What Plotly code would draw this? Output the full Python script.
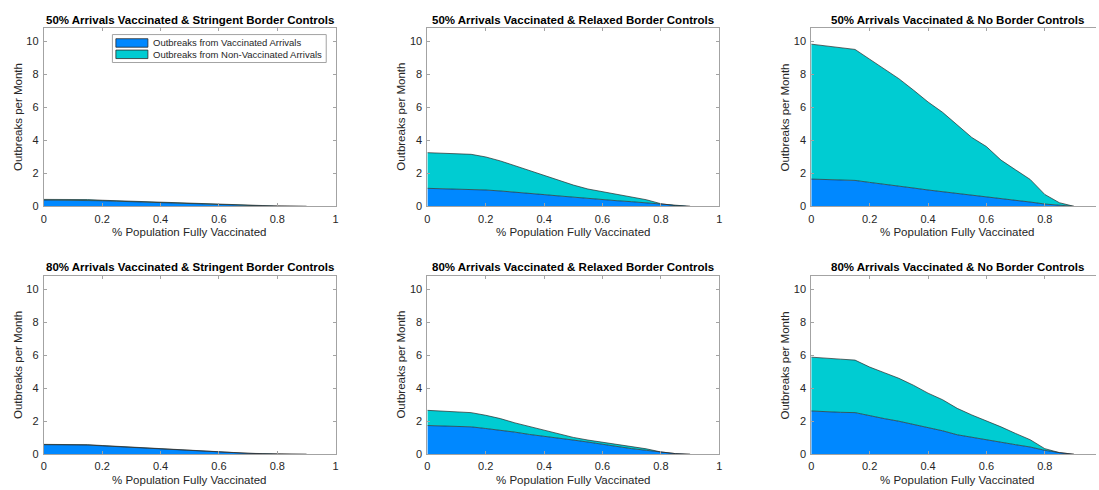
import plotly.graph_objects as go

# Share of the population fully vaccinated
vacc_share = [0.0, 0.05, 0.1, 0.15, 0.2, 0.25, 0.3, 0.35, 0.4, 0.45,
              0.5, 0.55, 0.6, 0.65, 0.7, 0.75, 0.8, 0.85, 0.9]

# Outbreaks per month from vaccinated arrivals (bottom layer)
vax_50_stringent = [0.38, 0.38, 0.38, 0.37, 0.34, 0.31, 0.28, 0.25, 0.21, 0.18,
                    0.15, 0.12, 0.09, 0.07, 0.05, 0.03, 0.02, 0.01, 0.0]
vax_50_relaxed = [1.09, 1.07, 1.05, 1.03, 0.99, 0.93, 0.87, 0.79, 0.71, 0.63,
                  0.55, 0.48, 0.42, 0.34, 0.28, 0.20, 0.12, 0.04, 0.0]
vax_50_none = [1.65, 1.61, 1.59, 1.57, 1.45, 1.35, 1.23, 1.11, 0.99, 0.89,
               0.76, 0.66, 0.56, 0.46, 0.36, 0.26, 0.14, 0.06, 0.0]
vax_80_stringent = [0.58, 0.58, 0.58, 0.56, 0.51, 0.46, 0.41, 0.37, 0.31, 0.26,
                    0.22, 0.18, 0.14, 0.10, 0.06, 0.03, 0.01, 0.005, 0.0]
vax_80_relaxed = [1.74, 1.70, 1.68, 1.66, 1.56, 1.46, 1.34, 1.20, 1.10, 0.98,
                  0.86, 0.74, 0.60, 0.50, 0.34, 0.24, 0.12, 0.04, 0.0]
vax_80_none = [2.62, 2.56, 2.54, 2.52, 2.32, 2.16, 2.00, 1.82, 1.60, 1.42,
               1.18, 1.02, 0.88, 0.74, 0.58, 0.44, 0.24, 0.10, 0.0]

# Outbreaks per month from non-vaccinated arrivals (stacked on top)
nonvax_50_stringent = [0.04, 0.04, 0.04, 0.04, 0.03, 0.03, 0.03, 0.03, 0.02, 0.02,
                       0.02, 0.01, 0.01, 0.01, 0.01, 0.0, 0.0, 0.0, 0.0]
nonvax_50_relaxed = [2.16, 2.16, 2.16, 2.12, 2.00, 1.82, 1.59, 1.37, 1.15, 0.93,
                     0.74, 0.57, 0.47, 0.37, 0.27, 0.20, 0.04, 0.0, 0.0]
nonvax_50_none = [8.17, 8.09, 8.03, 7.93, 7.46, 6.96, 6.50, 5.93, 5.33, 4.80,
                  4.17, 3.51, 3.06, 2.34, 1.85, 1.37, 0.58, 0.16, 0.0]
nonvax_80_stringent = [0.02, 0.02, 0.02, 0.02, 0.02, 0.02, 0.02, 0.01, 0.01, 0.01,
                       0.01, 0.01, 0.0, 0.0, 0.0, 0.0, 0.0, 0.0, 0.0]
nonvax_80_relaxed = [0.92, 0.92, 0.90, 0.86, 0.80, 0.70, 0.56, 0.48, 0.34, 0.22,
                     0.16, 0.12, 0.12, 0.10, 0.10, 0.09, 0.02, 0.0, 0.0]
nonvax_80_none = [3.26, 3.24, 3.22, 3.18, 2.96, 2.78, 2.60, 2.36, 2.10, 1.88,
                  1.60, 1.36, 1.16, 0.92, 0.68, 0.44, 0.10, 0.0, 0.0]

panel_titles = [
    "50% Arrivals Vaccinated & Stringent Border Controls",
    "50% Arrivals Vaccinated & Relaxed Border Controls",
    "50% Arrivals Vaccinated & No Border Controls",
    "80% Arrivals Vaccinated & Stringent Border Controls",
    "80% Arrivals Vaccinated & Relaxed Border Controls",
    "80% Arrivals Vaccinated & No Border Controls",
]
series_names = ["Outbreaks from Vaccinated Arrivals",
                "Outbreaks from Non-Vaccinated Arrivals"]
vax_series = [vax_50_stringent, vax_50_relaxed, vax_50_none,
              vax_80_stringent, vax_80_relaxed, vax_80_none]
nonvax_series = [nonvax_50_stringent, nonvax_50_relaxed, nonvax_50_none,
                 nonvax_80_stringent, nonvax_80_relaxed, nonvax_80_none]

x_ticks = [0, 0.2, 0.4, 0.6, 0.8, 1.0]
x_ticktext = ["0", "0.2", "0.4", "0.6", "0.8", "1"]
y_ticks = [0, 2, 4, 6, 8, 10]
x_label = "% Population Fully Vaccinated"
y_label = "Outbreaks per Month"

# ---- styling / layout ----
W, H = 1099, 490
FONT = "Liberation Sans, Arial, Helvetica, sans-serif"
BLUE = "#0088FF"
CYAN = "#00CCD2"
EDGE = "#2a2a2a"
AXIS = "#a3a3a3"
TEXT = "#262626"

col_left = [41.0, 426.7, 812.7]   # px
panel_w = 293.5
row_top = [28.3, 279.3]
panel_h = 180.6
Y_MAX = 10.8


def fx(p):
    return p / W


def fy(p):
    return 1 - p / H


fig = go.Figure()
annotations = []
shapes = []

for i in range(6):
    r, c = divmod(i, 3)
    n = i + 1
    xa = "x" if n == 1 else f"x{n}"
    ya = "y" if n == 1 else f"y{n}"
    left = col_left[c]
    right = left + panel_w
    top = row_top[r]
    bottom = top + panel_h

    x_end_px = min(right, W)
    x_max = (x_end_px - left) / panel_w

    fig.add_trace(go.Scatter(
        x=vacc_share, y=vax_series[i], xaxis=xa, yaxis=ya,
        name=series_names[0], stackgroup=f"s{n}", mode="lines",
        line=dict(color=EDGE, width=0.7), fillcolor=BLUE, showlegend=False))
    fig.add_trace(go.Scatter(
        x=vacc_share, y=nonvax_series[i], xaxis=xa, yaxis=ya,
        name=series_names[1], stackgroup=f"s{n}", mode="lines",
        line=dict(color=EDGE, width=0.7), fillcolor=CYAN, showlegend=False))

    xkey = "xaxis" if n == 1 else f"xaxis{n}"
    ykey = "yaxis" if n == 1 else f"yaxis{n}"
    fig.layout[xkey] = dict(
        domain=[fx(left), fx(x_end_px)], range=[0, x_max], anchor=ya,
        tickvals=x_ticks, ticktext=x_ticktext, ticks="inside", ticklen=3,
        tickcolor=AXIS, showline=True, linecolor=AXIS, linewidth=1,
        mirror="ticks", showgrid=False, zeroline=False, ticklabelstandoff=2,
        tickfont=dict(family=FONT, size=11, color=TEXT))
    fig.layout[ykey] = dict(
        domain=[fy(bottom), fy(top)], range=[0, Y_MAX], anchor=xa,
        tickvals=y_ticks, ticks="inside", ticklen=3,
        tickcolor=AXIS, showline=True, linecolor=AXIS, linewidth=1,
        mirror="ticks" if right <= W else False, ticklabelstandoff=2,
        showgrid=False, zeroline=False,
        tickfont=dict(family=FONT, size=11, color=TEXT))

    cx = (left + right) / 2
    annotations.append(dict(
        text=f"<b>{panel_titles[i]}</b>", xref="paper", yref="paper",
        x=fx(cx), y=fy(top - 8.5), xanchor="center", yanchor="middle",
        showarrow=False, font=dict(family=FONT, size=11.5, color="black")))
    annotations.append(dict(
        text=x_label, xref="paper", yref="paper",
        x=fx(cx), y=fy(bottom + 26), xanchor="center", yanchor="middle",
        showarrow=False, font=dict(family=FONT, size=11.5, color=TEXT)))
    annotations.append(dict(
        text=y_label, xref="paper", yref="paper", textangle=-90,
        x=fx(left - 26), y=fy((top + bottom) / 2), xanchor="center",
        yanchor="middle", showarrow=False,
        font=dict(family=FONT, size=11.5, color=TEXT)))

# Legend box inside the first panel
lg_left, lg_top, lg_right, lg_bottom = 110, 35, 325, 63.3
shapes.append(dict(type="rect", xref="paper", yref="paper",
                   x0=fx(lg_left), x1=fx(lg_right), y0=fy(lg_bottom), y1=fy(lg_top),
                   fillcolor="white", line=dict(color=AXIS, width=1), layer="above"))
for k, (name, col) in enumerate(zip(series_names, [BLUE, CYAN])):
    yc = 43.5 + k * 11.5
    shapes.append(dict(type="rect", xref="paper", yref="paper",
                       x0=fx(113.5), x1=fx(145.7), y0=fy(yc + 4.3), y1=fy(yc - 4.3),
                       fillcolor=col, line=dict(color=EDGE, width=0.8), layer="above"))
    annotations.append(dict(
        text=name, xref="paper", yref="paper", x=fx(149), y=fy(yc),
        xanchor="left", yanchor="middle", showarrow=False,
        font=dict(family=FONT, size=9.5, color=TEXT)))

fig.update_layout(
    width=W, height=H, margin=dict(l=0, r=0, t=0, b=0),
    paper_bgcolor="white", plot_bgcolor="white",
    annotations=annotations, shapes=shapes, showlegend=False,
    font=dict(family=FONT, color=TEXT),
)

fig.write_html("out.html")
